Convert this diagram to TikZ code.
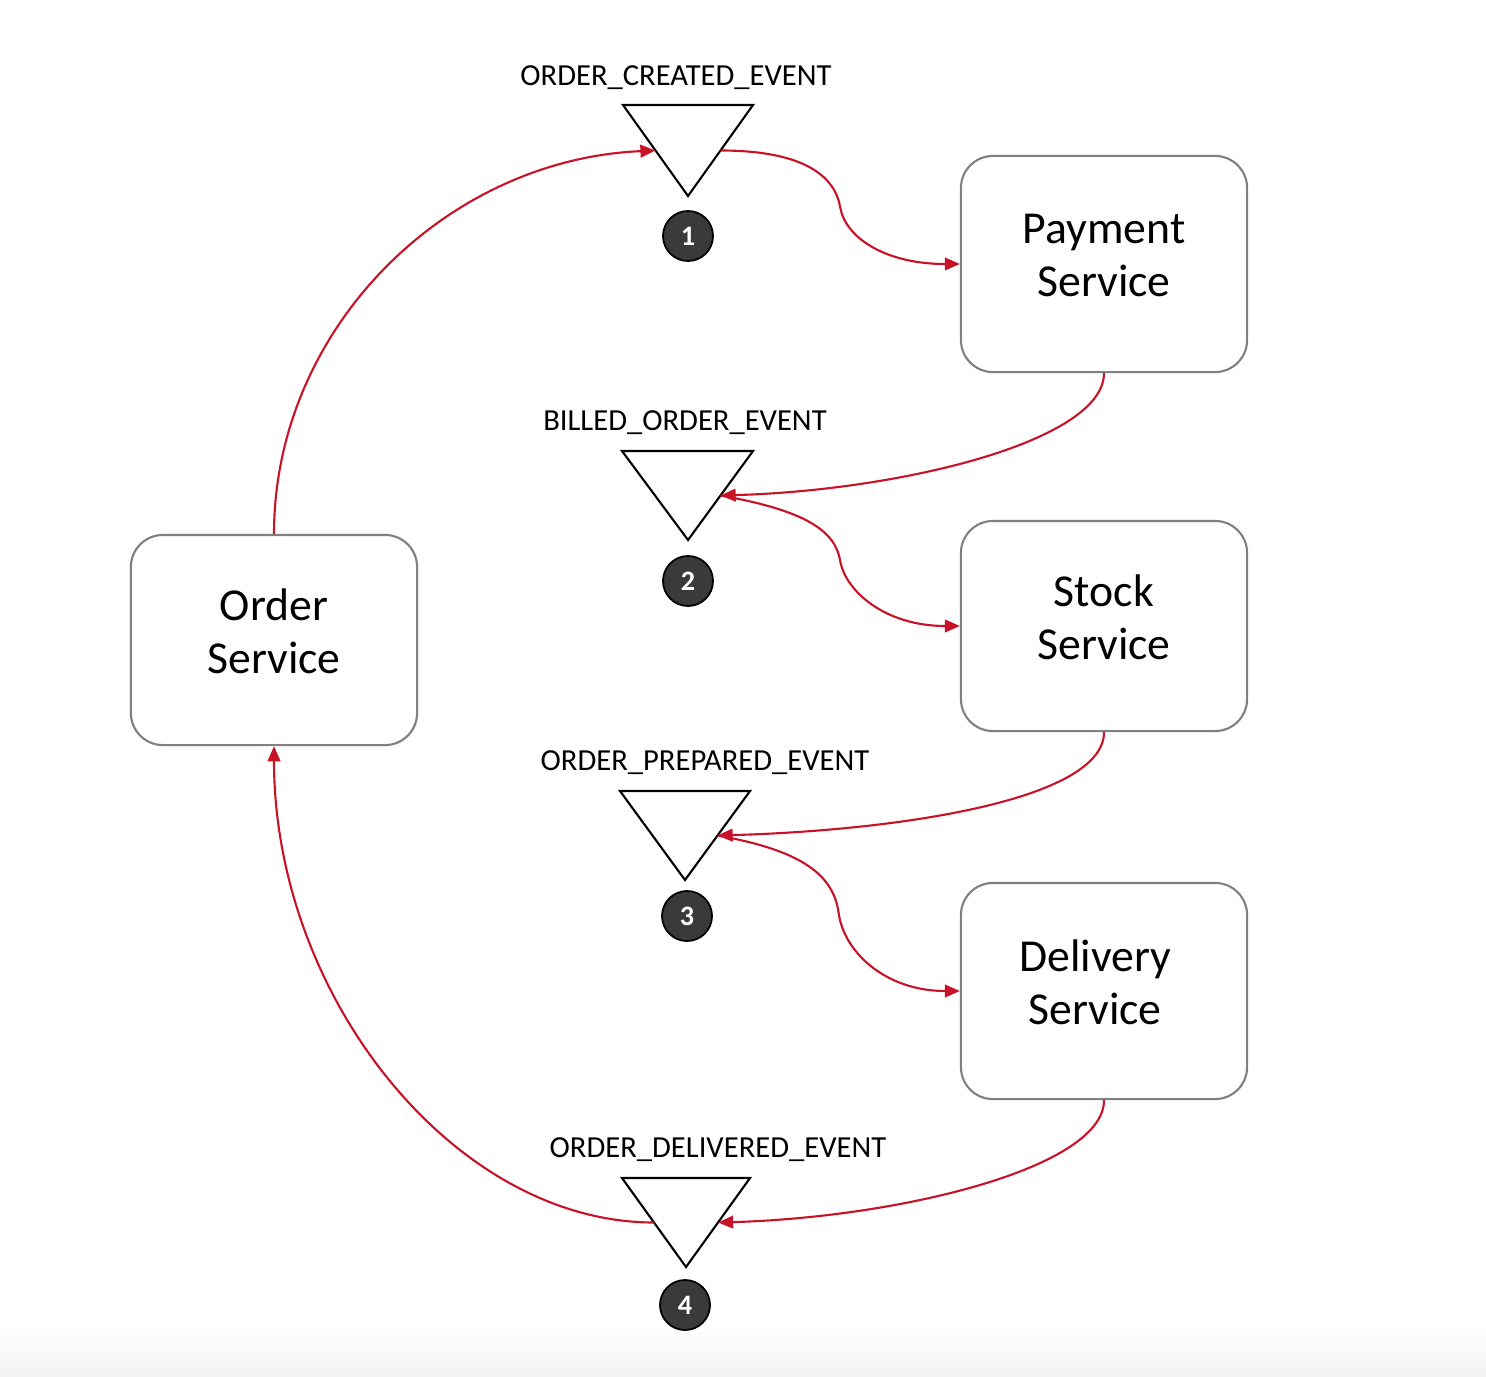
\documentclass[tikz,border=0pt]{standalone}
\usepackage{fontspec}
\setmainfont{Carlito}
\usetikzlibrary{arrows.meta,calc}
\definecolor{flowred}{RGB}{200,18,40}
\definecolor{boxgray}{RGB}{128,128,128}
\definecolor{badgefill}{RGB}{58,58,58}
\begin{document}
\begin{tikzpicture}[x=0.01cm,y=-0.01cm,
  svc/.style={draw=boxgray, line width=0.6pt, rounded corners=0.32cm, fill=white,
     minimum width=2.86cm},
  svctext/.style={align=center, inner sep=0pt, yshift=0.085cm, font=\fontsize{13}{15.2}\selectfont},
  evtri/.style={draw=black, line width=0.6pt, line join=miter},
  evlabel/.style={anchor=base, inner sep=0pt, font=\fontsize{8.7}{10}\selectfont},
  badge/.style={circle, draw=black, line width=0.5pt, fill=badgefill, minimum size=0.5cm,
     inner sep=0pt, text=white, font=\bfseries\fontsize{8}{9}\selectfont},
  flow/.style={draw=flowred, line width=0.6pt, -{Triangle[length=4.3pt,width=3.6pt]}}]
\useasboundingbox (0,0) rectangle (1486,1376);
\shade[top color=white, bottom color=black!5, draw=none] (0,1325) rectangle (1486,1376);

% services
\node[svc, minimum height=2.16cm, label={[svctext]center:Payment\\Service}] (pay) at (1104,264) {};
\node[svc, minimum height=2.10cm, label={[svctext]center:Stock\\Service}] (stock) at (1104,626) {};
\node[svc, minimum height=2.16cm, label={[svctext, xshift=-0.09cm]center:Delivery\\Service}] (del) at (1104,991) {};
\node[svc, minimum height=2.10cm, label={[svctext]center:Order\\Service}] (order) at (274,640) {};

% events
\draw[evtri] (623,105) -- (753,105) -- (688,196) -- cycle;
\coordinate (e1l) at (655.5,150.5); \coordinate (e1r) at (720.5,150.5);
\node[evlabel] (l1) at (676,86) {ORDER\_CREATED\_EVENT};
\node[badge] (b1) at (688,236) {1};

\draw[evtri] (622,451) -- (753,451) -- (688,540) -- cycle;
\coordinate (e2r) at (720.5,495.5);
\node[evlabel] (l2) at (685,430) {BILLED\_ORDER\_EVENT};
\node[badge] (b2) at (688,581) {2};

\draw[evtri] (620,791) -- (750,791) -- (685,880) -- cycle;
\coordinate (e3r) at (717.5,835.5);
\node[evlabel] (l3) at (705,770) {ORDER\_PREPARED\_EVENT};
\node[badge] (b3) at (687,916) {3};

\draw[evtri] (622,1178) -- (750,1178) -- (686,1267) -- cycle;
\coordinate (e4l) at (654,1222.5); \coordinate (e4r) at (718,1222.5);
\node[evlabel] (l4) at (718,1157) {ORDER\_DELIVERED\_EVENT};
\node[badge] (b4) at (685,1305) {4};

% connectors
\draw[flow] (order.north) .. controls +(0,-205) and +(-210,9) .. (e1l);
\draw[flow] (e1r) .. controls +(85,0) and +(-5,-30) .. ($(e1r)!0.5!(pay.west)$)
   .. controls +(5,30) and +(-75,0) .. (pay.west);
\draw[flow] (pay.south) .. controls +(0,68) and +(180,-5) .. (e2r);
\draw[flow] (e2r) .. controls +(85,15) and +(-5,-30) .. ($(e2r)!0.5!(stock.west)$)
   .. controls +(5,30) and +(-75,0) .. (stock.west);
\draw[flow] (stock.south) .. controls +(0,68) and +(180,-5) .. (e3r);
\draw[flow] (e3r) .. controls +(85,15) and +(-5,-38) .. ($(e3r)!0.5!(del.west)$)
   .. controls +(5,38) and +(-75,0) .. (del.west);
\draw[flow] (del.south) .. controls +(0,68) and +(180,-5) .. (e4r);
\draw[flow] (e4l) .. controls +(-200,0) and +(0,250) .. (order.south);
\end{tikzpicture}
\end{document}
